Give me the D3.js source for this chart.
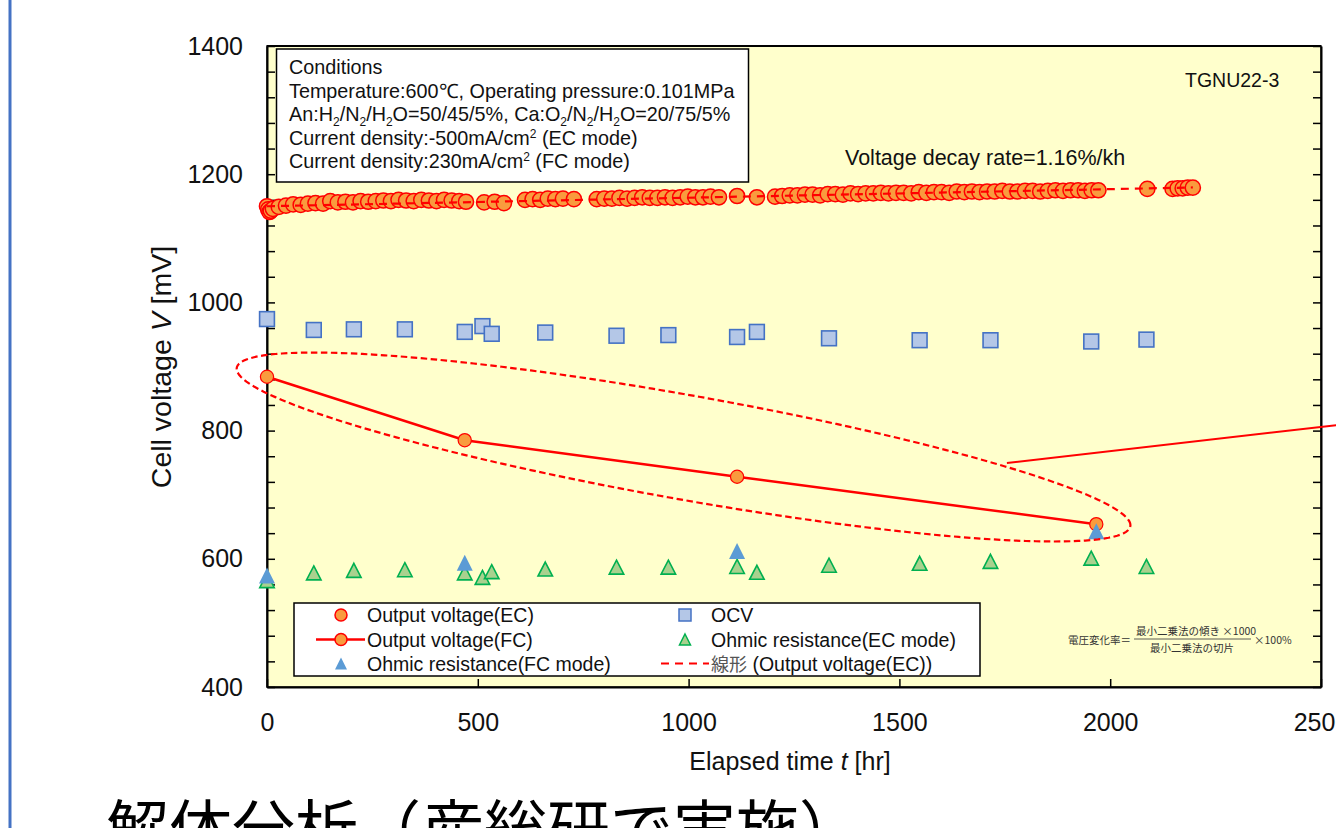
<!DOCTYPE html>
<html><head><meta charset="utf-8">
<script src="https://cdn.jsdelivr.net/npm/d3@7"></script>
<style>
html,body{margin:0;padding:0;background:#fff;}
svg{display:block;font-family:"Liberation Sans",Arial,sans-serif;}
</style></head><body>
<svg id="chart" width="1336" height="828"></svg>
<script>
// ---------- data ----------
// Output voltage in EC mode (mV) vs elapsed time (h)
const ecTime = [0, 3, 6, 9, 14, 28, 45, 62, 80, 97, 115, 133, 150, 168, 186, 204, 222, 240, 258, 276, 294, 312, 330, 348, 366, 384, 402, 420, 438, 456, 472,
  515, 540, 562,
  612, 630, 648, 666, 684, 702, 728,
  782, 800, 818, 836, 854, 872, 890, 908, 926, 944, 962, 980, 998, 1016, 1034, 1052, 1072,
  1115, 1162,
  1205, 1222, 1240, 1258, 1276, 1294, 1312, 1330, 1348, 1366, 1384, 1402, 1420, 1438, 1456, 1474, 1492, 1510, 1528, 1546, 1564, 1582, 1600, 1618, 1636, 1654, 1672, 1690, 1708, 1726, 1744, 1762, 1780, 1798, 1816, 1834, 1852, 1870, 1888, 1906, 1924, 1940, 1956, 1972,
  2088,
  2148, 2160, 2172, 2184, 2196];
const ecVoltage = [1150, 1145, 1141, 1143, 1146, 1149, 1151, 1153, 1152, 1154, 1155, 1154, 1158, 1156, 1157, 1156, 1158, 1157, 1158, 1159, 1158, 1160, 1159, 1158, 1160, 1159, 1158, 1160, 1159, 1158, 1157,
  1156, 1157, 1155,
  1160, 1161, 1160, 1162, 1161, 1162, 1161,
  1161, 1162, 1162, 1163, 1162, 1163, 1164, 1163, 1163, 1164, 1163, 1164, 1165, 1164, 1164, 1165, 1164,
  1166, 1164,
  1165, 1166, 1167, 1167, 1168, 1168, 1167, 1169, 1169, 1168, 1170, 1169, 1170, 1170, 1171, 1170, 1171, 1171, 1170, 1172, 1171, 1172, 1172, 1171, 1173, 1172, 1173, 1172, 1173, 1173, 1174, 1173, 1173, 1174, 1174, 1173, 1174, 1175, 1174, 1175, 1175, 1174, 1175, 1175,
  1177,
  1177, 1178, 1178, 1179, 1179];

// Output voltage in FC mode (mV)
const fcTime = [0, 469, 1115, 1967];
const fcVoltage = [884, 785, 728, 654];

// Open circuit voltage (mV)
const ocvTime = [0, 111, 206, 327, 469, 511, 533, 660, 829, 952, 1115, 1162, 1333, 1548, 1716, 1955, 2086];
const ocvVoltage = [974, 957, 958, 958, 954, 963, 951, 953, 948, 949, 946, 954, 944, 941, 941, 939, 942];

// Ohmic resistance, EC mode (plotted on the voltage scale)
const ohmicEcTime = [0, 111, 206, 327, 469, 511, 533, 660, 829, 952, 1115, 1162, 1333, 1548, 1716, 1955, 2086];
const ohmicEcValue = [566, 578, 582, 583, 578, 571, 580, 584, 587, 587, 588, 579, 590, 593, 596, 601, 588];

// Ohmic resistance, FC mode
const ohmicFcTime = [0, 469, 1115, 1967];
const ohmicFcValue = [574, 594, 612, 643];

// Linear fit of the EC output voltage: intercept (mV) and decay rate (%/kh)
const trendIntercept = 1150;
const decayRate = 1.16;
const trendRange = [0, 2196];

const xTicks = [0, 500, 1000, 1500, 2000, 2500];
const yTicks = [400, 600, 800, 1000, 1200, 1400];
const yMinorTicks = d3.range(400, 1401, 40);

const conditionLines = [
  [{t:"Conditions"}],
  [{t:"Temperature:600℃, Operating pressure:0.101MPa"}],
  [{t:"An:H"},{t:"2",sub:1},{t:"/N"},{t:"2",sub:1},{t:"/H"},{t:"2",sub:1},{t:"O=50/45/5%, Ca:O"},{t:"2",sub:1},{t:"/N"},{t:"2",sub:1},{t:"/H"},{t:"2",sub:1},{t:"O=20/75/5%"}],
  [{t:"Current density:-500mA/cm"},{t:"2",sup:1},{t:" (EC mode)"}],
  [{t:"Current density:230mA/cm"},{t:"2",sup:1},{t:" (FC mode)"}]
];

// ---------- scales ----------
const svg = d3.select("#chart");
const x = d3.scaleLinear().domain([0, 2500]).range([267, 1321]);
const y = d3.scaleLinear().domain([400, 1400]).range([687, 46]);

const RED = "#FF0000", ORANGE = "#F99B3E";

// slide accent bar on the left
svg.append("line").attr("x1", 10).attr("x2", 10).attr("y1", 0).attr("y2", 828)
  .attr("stroke", "#4472C4").attr("stroke-width", 3);

// plot area
svg.append("rect").attr("x", x(0)).attr("y", y(1400))
  .attr("width", x(2500) - x(0)).attr("height", y(400) - y(1400))
  .attr("fill", "#FFFFCC").attr("stroke", "#000").attr("stroke-width", 1.5);

// axes
const axisStyle = g => {
  g.select(".domain").attr("stroke", "#000").attr("stroke-width", 2);
  g.selectAll(".tick line").attr("stroke", "#000").attr("stroke-width", 1.5);
  g.selectAll(".tick text").attr("fill", "#111").style("font-size", "25px")
    .style("font-family", '"Liberation Sans", Arial, sans-serif');
};
svg.append("g").attr("transform", `translate(${x(0)},0)`)
  .call(d3.axisLeft(y).tickValues(yMinorTicks).tickSize(-8).tickSizeOuter(0).tickPadding(24)
    .tickFormat(d => yTicks.includes(d) ? d : ""))
  .call(axisStyle);
svg.append("g").attr("transform", `translate(${x(2500)},0)`)
  .call(d3.axisRight(y).tickValues(yMinorTicks).tickSize(-8).tickSizeOuter(0).tickFormat(""))
  .call(axisStyle);
svg.append("g").attr("transform", `translate(0,${y(400)})`)
  .call(d3.axisBottom(x).tickValues(xTicks).tickSize(-8).tickSizeOuter(0).tickPadding(26)
    .tickFormat(d3.format("d")))
  .call(axisStyle);
svg.append("line").attr("x1", x(0)).attr("x2", x(2500)).attr("y1", y(1400)).attr("y2", y(1400))
  .attr("stroke", "#000").attr("stroke-width", 2);

// axis titles
const xt = svg.append("text").attr("x", 790).attr("y", 770).attr("text-anchor", "middle")
  .style("font-size", "25px").attr("fill", "#111");
xt.append("tspan").text("Elapsed time ");
xt.append("tspan").style("font-style", "italic").text("t");
xt.append("tspan").text(" [hr]");
const yt = svg.append("text").attr("transform", "translate(171,367) rotate(-90)")
  .attr("text-anchor", "middle").style("font-size", "28.5px").attr("fill", "#111");
yt.append("tspan").text("Cell voltage  ");
yt.append("tspan").style("font-style", "italic").text("V");
yt.append("tspan").text(" [mV]");

// marker shapes
const triPath = (w, h) => `M0,${-h/2}L${w/2},${h/2}L${-w/2},${h/2}Z`;

const plot = svg.append("g");

// EC output voltage
plot.append("g").selectAll("circle").data(ecTime).join("circle")
  .attr("cx", (d) => x(d)).attr("cy", (d, i) => y(ecVoltage[i])).attr("r", 7.6)
  .attr("fill", ORANGE).attr("stroke", RED).attr("stroke-width", 1.5);

// OCV
plot.append("g").selectAll("rect").data(ocvTime).join("rect")
  .attr("x", d => x(d) - 7.4).attr("y", (d, i) => y(ocvVoltage[i]) - 7.4)
  .attr("width", 14.8).attr("height", 14.8)
  .attr("fill", "#B4C7E7").attr("stroke", "#4472C4").attr("stroke-width", 1.6);

// FC output voltage (line + markers)
const fcLine = d3.line().x(d => x(d)).y((d, i) => y(fcVoltage[i]));
plot.append("path").attr("d", fcLine(fcTime)).attr("fill", "none")
  .attr("stroke", RED).attr("stroke-width", 2.5);
plot.append("g").selectAll("circle").data(fcTime).join("circle")
  .attr("cx", d => x(d)).attr("cy", (d, i) => y(fcVoltage[i])).attr("r", 6.6)
  .attr("fill", ORANGE).attr("stroke", RED).attr("stroke-width", 1.2);

// Ohmic resistance EC
plot.append("g").selectAll("path").data(ohmicEcTime).join("path")
  .attr("d", triPath(14.5, 14))
  .attr("transform", (d, i) => `translate(${x(d)},${y(ohmicEcValue[i])})`)
  .attr("fill", "#A9D18E").attr("stroke", "#00B050").attr("stroke-width", 1.6);

// Ohmic resistance FC
plot.append("g").selectAll("path").data(ohmicFcTime).join("path")
  .attr("d", triPath(16, 16))
  .attr("transform", (d, i) => `translate(${x(d)},${y(ohmicFcValue[i])})`)
  .attr("fill", "#5B9BD5");

// linear trend of EC output voltage
const slope = trendIntercept * decayRate / 100 / 1000;
plot.append("line")
  .attr("x1", x(trendRange[0])).attr("y1", y(trendIntercept + slope * trendRange[0]))
  .attr("x2", x(trendRange[1])).attr("y2", y(trendIntercept + slope * trendRange[1]))
  .attr("stroke", RED).attr("stroke-width", 2.2).attr("stroke-dasharray", "8,6");

// ellipse highlighting the FC voltage drop (defined in data units)
const ell = {t: 988, v: 774.4, halfT: 1060, skew: -0.1151, halfV: 82.7};
const ellPts = d3.range(0, 2 * Math.PI, Math.PI / 90).map(s => [
  x(ell.t + ell.halfT * Math.cos(s)),
  y(ell.v + ell.skew * ell.halfT * Math.cos(s) + ell.halfV * Math.sin(s))
]);
svg.append("path").attr("d", d3.line().curve(d3.curveLinearClosed)(ellPts))
  .attr("fill", "none").attr("stroke", RED).attr("stroke-width", 2.2).attr("stroke-dasharray", "6.5,3.5");
// callout line leaving the ellipse
const callout = [[1755, 749.5], [2690, 820]];
svg.append("line").attr("x1", x(callout[0][0])).attr("y1", y(callout[0][1]))
  .attr("x2", x(callout[1][0])).attr("y2", y(callout[1][1]))
  .attr("stroke", RED).attr("stroke-width", 2);

// conditions box
svg.append("rect").attr("x", 276.5).attr("y", 49).attr("width", 472).attr("height", 133)
  .attr("fill", "#fff").attr("stroke", "#000").attr("stroke-width", 1.5);
conditionLines.forEach((parts, i) => {
  const t = svg.append("text").attr("x", 289).attr("y", 74 + i * 23.5)
    .style("font-size", "19.8px").attr("fill", "#111");
  const spans = parts.map(p => {
    const s = t.append("tspan").text(p.t);
    if (p.sub) s.style("font-size", "12px").attr("dy", 5);
    if (p.sup) s.style("font-size", "12px").attr("dy", -7);
    return s;
  });
  // return to the baseline after a shifted run
  parts.forEach((p, k) => {
    if ((p.sub || p.sup) && spans[k + 1]) spans[k + 1].attr("dy", p.sub ? -5 : 7);
  });
});

// annotations
svg.append("text").attr("x", 1185).attr("y", 87).style("font-size", "19.5px").attr("fill", "#111").text("TGNU22-3");
svg.append("text").attr("x", 845).attr("y", 165).style("font-size", "21.5px").attr("fill", "#111")
  .text(`Voltage decay rate=${decayRate}%/kh`);

// formula for the decay rate
const fml = svg.append("g").style("font-family", '"Noto Sans CJK JP", sans-serif')
  .style("font-size", "10.5px").attr("fill", "#333");
fml.append("text").attr("x", 1068).attr("y", 644).text("電圧変化率＝");
fml.append("text").attr("x", 1136).attr("y", 635).text("最小二乗法の傾き ×1000");
fml.append("line").attr("x1", 1134).attr("x2", 1251).attr("y1", 639).attr("y2", 639)
  .attr("stroke", "#333").attr("stroke-width", 0.8);
fml.append("text").attr("x", 1150).attr("y", 652).text("最小二乗法の切片");
fml.append("text").attr("x", 1254).attr("y", 644).text("×100%");

// legend
const lg = svg.append("g");
lg.append("rect").attr("x", 294).attr("y", 603).attr("width", 686).attr("height", 73)
  .attr("fill", "#fff").attr("stroke", "#000").attr("stroke-width", 1.5);
const rows = [615, 639.5, 663.5];
const c1 = 341, c2 = 685, tx1 = 367, tx2 = 711;
const legendText = (xx, yy, s) => lg.append("text").attr("x", xx).attr("y", yy + 7)
  .style("font-size", "19.5px").attr("fill", "#111").text(s);
lg.append("circle").attr("cx", c1).attr("cy", rows[0]).attr("r", 6).attr("fill", ORANGE).attr("stroke", RED).attr("stroke-width", 1.5);
legendText(tx1, rows[0], "Output voltage(EC)");
lg.append("line").attr("x1", 316).attr("x2", 365).attr("y1", rows[1]).attr("y2", rows[1]).attr("stroke", RED).attr("stroke-width", 2.5);
lg.append("circle").attr("cx", c1).attr("cy", rows[1]).attr("r", 6).attr("fill", ORANGE).attr("stroke", RED).attr("stroke-width", 1.5);
legendText(tx1, rows[1], "Output voltage(FC)");
lg.append("path").attr("d", triPath(12, 12)).attr("transform", `translate(${c1},${rows[2]})`).attr("fill", "#5B9BD5");
legendText(tx1, rows[2], "Ohmic resistance(FC mode)");
lg.append("rect").attr("x", c2 - 6).attr("y", rows[0] - 6).attr("width", 12).attr("height", 12)
  .attr("fill", "#B4C7E7").attr("stroke", "#4472C4").attr("stroke-width", 1.5);
legendText(tx2, rows[0], "OCV");
lg.append("path").attr("d", triPath(11, 11)).attr("transform", `translate(${c2},${rows[1]})`)
  .attr("fill", "#A9D18E").attr("stroke", "#00B050").attr("stroke-width", 1.5);
legendText(tx2, rows[1], "Ohmic resistance(EC mode)");
lg.append("line").attr("x1", 661).attr("x2", 709).attr("y1", rows[2]).attr("y2", rows[2])
  .attr("stroke", RED).attr("stroke-width", 2.2).attr("stroke-dasharray", "8,6");
const lt = legendText(tx2, rows[2], "");
lt.append("tspan").style("font-family", '"Noto Sans CJK JP", sans-serif').style("font-size", "18px").attr("fill", "#555").text("線形");
lt.append("tspan").text(" (Output voltage(EC))");

// slide text below the chart
svg.append("text").attr("x", 106).attr("y", 852)
  .style("font-family", '"Noto Sans CJK JP", sans-serif').style("font-size", "63px").attr("fill", "#000")
  .text("解体分析（産総研で実施）");
</script>
</body></html>
